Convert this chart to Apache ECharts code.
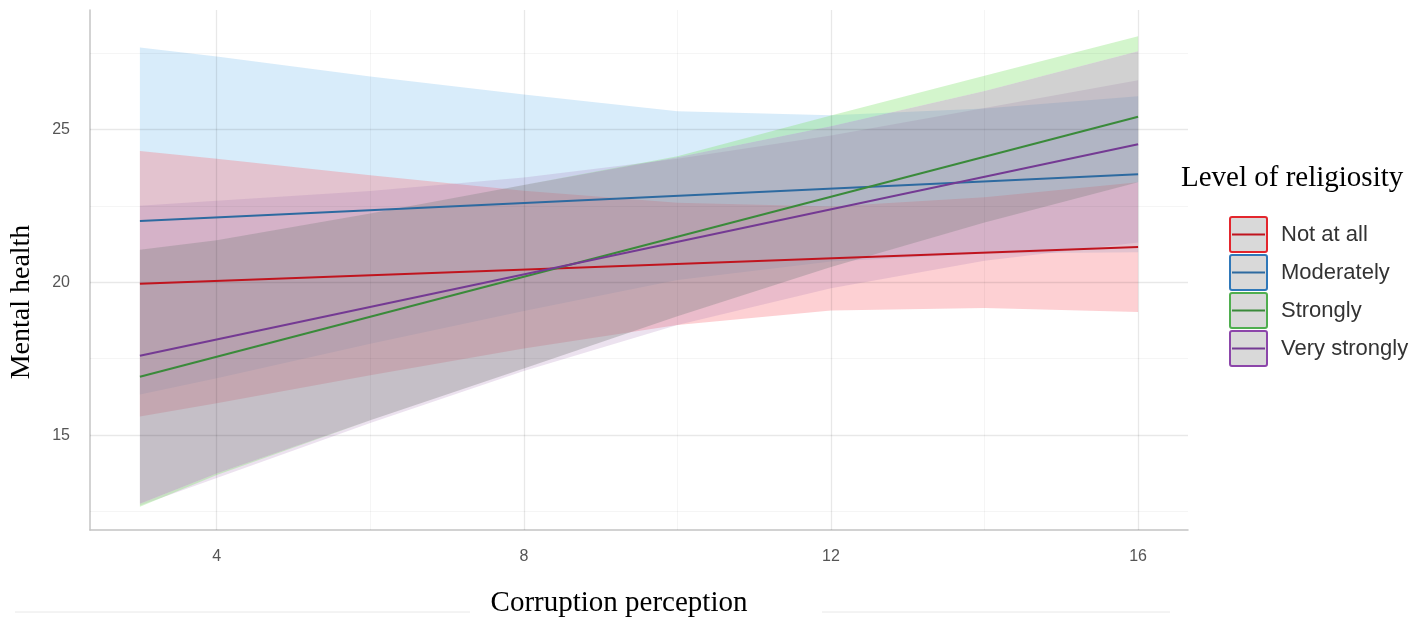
<!DOCTYPE html>
<html>
<head>
<meta charset="utf-8">
<title>Mental health by corruption perception</title>
<script src="https://cdn.jsdelivr.net/npm/echarts@6/dist/echarts.min.js"></script>
<style>
    html, body { margin: 0; padding: 0; background: #fff; }
    #chart { width: 1418px; height: 624px; }
</style>
</head>
<body>
<div id="chart"></div>
<script>
// x positions where the band edges were read
var xs = [3, 4, 6, 8, 10, 12, 14, 16];

// confidence bands (lower / upper)
var notLo = [15.61, 16.04, 16.96, 17.83, 18.60, 19.08, 19.16, 19.03];
var notHi = [24.29, 24.04, 23.50, 22.99, 22.60, 22.48, 22.78, 23.27];
var modLo = [16.33, 16.86, 17.99, 19.06, 20.07, 20.68, 20.94, 20.98];
var modHi = [27.67, 27.38, 26.73, 26.14, 25.59, 25.46, 25.68, 26.08];
var strLo = [12.76, 13.75, 15.49, 17.18, 18.89, 20.50, 21.95, 23.27];
var strHi = [21.06, 21.37, 22.25, 23.18, 24.09, 25.10, 26.25, 27.55];
// light green rim around the grey band of "Strongly"
var strOutLo = [12.66, 13.70, 15.49, 17.18, 18.89, 20.50, 21.95, 23.27];
var strOutHi = [21.06, 21.37, 22.25, 23.18, 24.12, 25.45, 26.75, 28.04];
var veryLo = [12.70, 13.60, 15.40, 17.10, 18.60, 19.80, 20.70, 21.30];
var veryHi = [22.50, 22.66, 22.98, 23.42, 24.04, 24.80, 25.70, 26.60];

// fitted lines, ends at x = 3 and x = 16
var lineX = [3, 16];
var notLine = [19.95, 21.15];
var modLine = [22.00, 23.53];
var strLine = [16.91, 25.41];
var veryLine = [17.60, 24.51];

var xTicks = [4, 8, 12, 16];
var xMinor = [6, 10, 14];
var yTicks = [15, 20, 25];
var yMinor = [12.5, 17.5, 22.5, 27.5];

var names = ['Not at all', 'Moderately', 'Strongly', 'Very strongly'];
var lineColors = ['#c0141e', '#2d6aa0', '#3a8a3a', '#743a93'];
var keyColors = ['#e3262d', '#2f78b9', '#4fae4f', '#8c46aa'];

function pairs(xv, yv) {
    return xv.map(function (x, i) { return [x, yv[i]]; });
}

// a band is one polygon: upper edge left to right, lower edge back
function band(lo, hi, color) {
    return {
        type: 'custom',
        silent: true,
        clip: true,
        data: xs.map(function (x, i) { return [x, lo[i], hi[i]]; }),
        encode: { x: 0, y: [1, 2] },
        renderItem: function (params, api) {
            if (params.dataIndex !== 0) return null;
            var pts = [];
            xs.forEach(function (x, i) { pts.push(api.coord([x, hi[i]])); });
            for (var i = xs.length - 1; i >= 0; i--) pts.push(api.coord([xs[i], lo[i]]));
            return {
                type: 'polygon',
                shape: { points: pts },
                style: { fill: color }
            };
        }
    };
}

function fitLine(data, color) {
    return {
        type: 'line',
        data: pairs(lineX, data),
        symbol: 'none',
        silent: true,
        z: 5,
        lineStyle: { color: color, width: 2 }
    };
}

var series = [
    band(modLo, modHi, 'rgba(99,179,235,0.25)'),
    band(notLo, notHi, 'rgba(248,112,122,0.33)'),
    band(veryLo, veryHi, 'rgba(160,110,175,0.2)'),
    band(strHi, strOutHi, 'rgba(130,225,110,0.35)'),
    band(strOutLo, strLo, 'rgba(130,225,110,0.35)'),
    band(strLo, strHi, 'rgba(135,135,135,0.38)')
];

// grid lines on top of the bands
var gridData = []
    .concat(xTicks.map(function (v) { return { xAxis: v, lineStyle: { color: 'rgba(0,0,0,0.09)', width: 1.3 } }; }))
    .concat(xMinor.map(function (v) { return { xAxis: v, lineStyle: { color: 'rgba(0,0,0,0.04)', width: 1 } }; }))
    .concat(yTicks.map(function (v) { return { yAxis: v, lineStyle: { color: 'rgba(0,0,0,0.09)', width: 1.3 } }; }))
    .concat(yMinor.map(function (v) { return { yAxis: v, lineStyle: { color: 'rgba(0,0,0,0.04)', width: 1 } }; }));

series.push({
    type: 'line',
    data: [[3, 20]],
    symbol: 'none',
    silent: true,
    lineStyle: { opacity: 0 },
    z: 3,
    markLine: {
        silent: true,
        symbol: 'none',
        label: { show: false },
        lineStyle: { type: 'solid' },
        data: gridData
    }
});

series.push(fitLine(notLine, lineColors[0]));
series.push(fitLine(modLine, lineColors[1]));
series.push(fitLine(strLine, lineColors[2]));
series.push(fitLine(veryLine, lineColors[3]));

// legend drawn by hand: grey key with coloured frame and line
var graphics = [
    {
        type: 'text', x: 1181, y: 178,
        style: { text: 'Level of religiosity', font: '29px "Liberation Serif"', fill: '#000', textVerticalAlign: 'middle' }
    },
    {
        type: 'text', x: 22, y: 302, rotation: Math.PI / 2,
        style: { text: 'Mental health', font: '28px "Liberation Serif"', fill: '#000', textAlign: 'center', textVerticalAlign: 'middle' }
    },
    {
        type: 'text', x: 619, y: 603,
        style: { text: 'Corruption perception', font: '29px "Liberation Serif"', fill: '#000', textAlign: 'center', textVerticalAlign: 'middle' }
    },
    { type: 'line', shape: { x1: 15, y1: 612, x2: 470, y2: 612 }, style: { stroke: '#e8e8e8', lineWidth: 1 } },
    { type: 'line', shape: { x1: 822, y1: 612, x2: 1170, y2: 612 }, style: { stroke: '#e8e8e8', lineWidth: 1 } }
];
names.forEach(function (name, i) {
    var top = 217 + 38 * i;
    graphics.push({
        type: 'rect',
        shape: { x: 1230, y: top, width: 37, height: 35, r: 2 },
        style: { fill: '#d9d9d9', stroke: keyColors[i], lineWidth: 2 }
    });
    graphics.push({
        type: 'line',
        shape: { x1: 1232, y1: top + 17.5, x2: 1265, y2: top + 17.5 },
        style: { stroke: lineColors[i], lineWidth: 2 }
    });
    graphics.push({
        type: 'text', x: 1281, y: top + 18,
        style: { text: name, font: '22px "Liberation Sans"', fill: '#333', textVerticalAlign: 'middle' }
    });
});

var chart = echarts.init(document.getElementById('chart'));
chart.setOption({
    animation: false,
    backgroundColor: '#fff',
    grid: { left: 90, right: 230, top: 10, bottom: 94, containLabel: false },
    xAxis: {
        type: 'value',
        min: 2.35,
        max: 16.65,
        axisLine: { show: true, lineStyle: { color: '#c4c4c4', width: 1.5 } },
        axisTick: { show: false },
        splitLine: { show: false },
        axisLabel: {
            customValues: xTicks,
            margin: 19,
            color: '#555',
            fontSize: 16,
            fontFamily: 'Liberation Sans'
        }
    },
    yAxis: {
        type: 'value',
        min: 11.9,
        max: 28.9,
        axisLine: { show: true, lineStyle: { color: '#c4c4c4', width: 1.5 } },
        axisTick: { show: false },
        splitLine: { show: false },
        axisLabel: {
            customValues: yTicks,
            margin: 20,
            color: '#555',
            fontSize: 16,
            fontFamily: 'Liberation Sans'
        }
    },
    series: series,
    graphic: graphics
});
</script>
</body>
</html>
